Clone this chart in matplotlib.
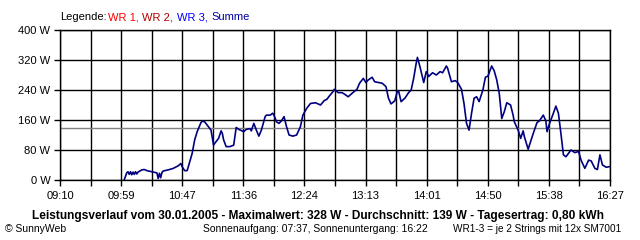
import matplotlib
matplotlib.use('Agg')
import matplotlib.pyplot as plt

plt.rcParams['font.family'] = ['Liberation Sans', 'DejaVu Sans']

# time in minutes after midnight, power in W
minutes = [601, 603, 604, 605, 606, 607, 608, 609, 610, 611,
           612, 615, 617, 619, 623, 627, 628, 629, 630, 631,
           632, 636, 640, 644, 646, 647, 649, 651, 652, 655,
           657, 659, 662, 663, 665, 668, 670, 672, 673, 676,
           678, 679, 680, 681, 682, 685, 688, 690, 692, 696,
           698, 701, 702, 704, 706, 708, 710, 713, 714, 717,
           719, 720, 722, 724, 726, 728, 730, 732, 735, 738,
           741, 743, 746, 749, 753, 757, 758, 760, 762, 764,
           767, 768, 771, 774, 776, 779, 782, 786, 788, 791,
           793, 795, 798, 800, 803, 806, 809, 811, 813, 816,
           818, 819, 821, 824, 827, 829, 831, 833, 834, 836,
           839, 841, 843, 846, 849, 852, 854, 857, 858, 861,
           864, 866, 869, 871, 873, 875, 877, 879, 881, 883,
           886, 888, 890, 893, 895, 897, 899, 901, 903, 905,
           908, 910, 911, 914, 916, 918, 919, 922, 923, 926,
           929, 931, 934, 936, 937, 939, 942, 944, 946, 948,
           950, 952, 954, 956, 959, 962, 964, 967, 970, 972,
           975, 977, 979, 981, 984, 987]
watts = [0, 19, 22, 15, 22, 14, 21, 15, 22, 16,
         21, 27, 28, 25, 22, 19, 4, 18, 6, 20,
         24, 27, 31, 38, 44, 36, 25, 25, 36, 71,
         107, 129, 153, 157, 155, 142, 133, 93, 98, 111,
         131, 124, 107, 98, 89, 89, 93, 140, 135, 129,
         135, 137, 131, 151, 133, 117, 133, 169, 173, 173,
         178, 173, 155, 151, 158, 169, 142, 120, 117, 120,
         142, 173, 191, 204, 206, 200, 204, 212, 215, 224,
         236, 242, 233, 233, 229, 222, 231, 242, 258, 271,
         260, 267, 274, 262, 260, 258, 249, 218, 203, 211,
         236, 238, 209, 218, 233, 240, 271, 311, 327, 302,
         260, 289, 276, 286, 280, 289, 286, 304, 298, 262,
         265, 260, 242, 204, 151, 133, 178, 218, 222, 209,
         240, 274, 277, 304, 291, 267, 231, 164, 182, 206,
         200, 173, 155, 133, 111, 131, 115, 82, 93, 124,
         153, 158, 173, 158, 129, 151, 178, 197, 178, 124,
         67, 62, 71, 80, 73, 76, 53, 31, 53, 51,
         31, 28, 67, 40, 34, 36]
assert len(minutes) == len(watts)

average = 139
t_start, t_end = 550, 987  # 09:10 .. 16:27
x_labels = ['09:10', '09:59', '10:47', '11:36', '12:24',
            '13:13', '14:01', '14:50', '15:38', '16:27']
y_ticks = [0, 80, 160, 240, 320, 400]

fig = plt.figure(figsize=(6.4, 2.4), dpi=100)
ax = fig.add_axes([60/640, 1-180/240, 550/640, 150/240])

step = (t_end - t_start) / 18
grid_x = [t_start + i*step for i in range(19)]
ax.set_xticks(grid_x)
ax.set_xticklabels([x_labels[i//2] if i % 2 == 0 else '' for i in range(19)])
ax.set_yticks(y_ticks)
ax.set_yticklabels([f'{v} W' for v in y_ticks])
ax.set_xlim(t_start, t_end)
ax.set_ylim(0, 400)
ax.grid(True, color='black', linewidth=1.0)
ax.tick_params(direction='out', length=4, width=1.0, labelsize=8, color='black')
ax.tick_params(axis='x', pad=4)
ax.tick_params(axis='y', pad=3)
for s in ax.spines.values():
    s.set_linewidth(1.0)
    s.set_color('black')

ax.axhline(average, color='#808080', linewidth=1.0, zorder=2)
ax.plot(minutes, watts, color='#000080', linewidth=1.2, zorder=3)

# legend line
parts = [('Legende:', 'black', 60), ('WR 1,', '#ff0000', 108),
         ('WR 2,', '#b00000', 142), ('WR 3,', '#0000ff', 177),
         ('Summe', '#0000a0', 211)]
for txt, col, px in parts:
    fig.text(px/640, 1-17/240, txt, color=col, fontsize=8, va='center', ha='left')

fig.text(318/640, 1-216/240,
         'Leistungsverlauf vom 30.01.2005 - Maximalwert: 328 W - Durchschnitt: 139 W - Tagesertrag: 0,80 kWh',
         fontsize=8.6, fontweight='bold', ha='center', va='center')
fig.text(5/640, 1-229/240, '\u00a9 SunnyWeb', fontsize=7.5, ha='left', va='center')
fig.text(203/640, 1-229/240, 'Sonnenaufgang: 07:37, Sonnenuntergang: 16:22',
         fontsize=7.5, ha='left', va='center')
fig.text(621/640, 1-229/240, 'WR1-3 = je 2 Strings mit 12x SM7001',
         fontsize=7.2, ha='right', va='center')

fig.savefig('out.png', dpi=100)
